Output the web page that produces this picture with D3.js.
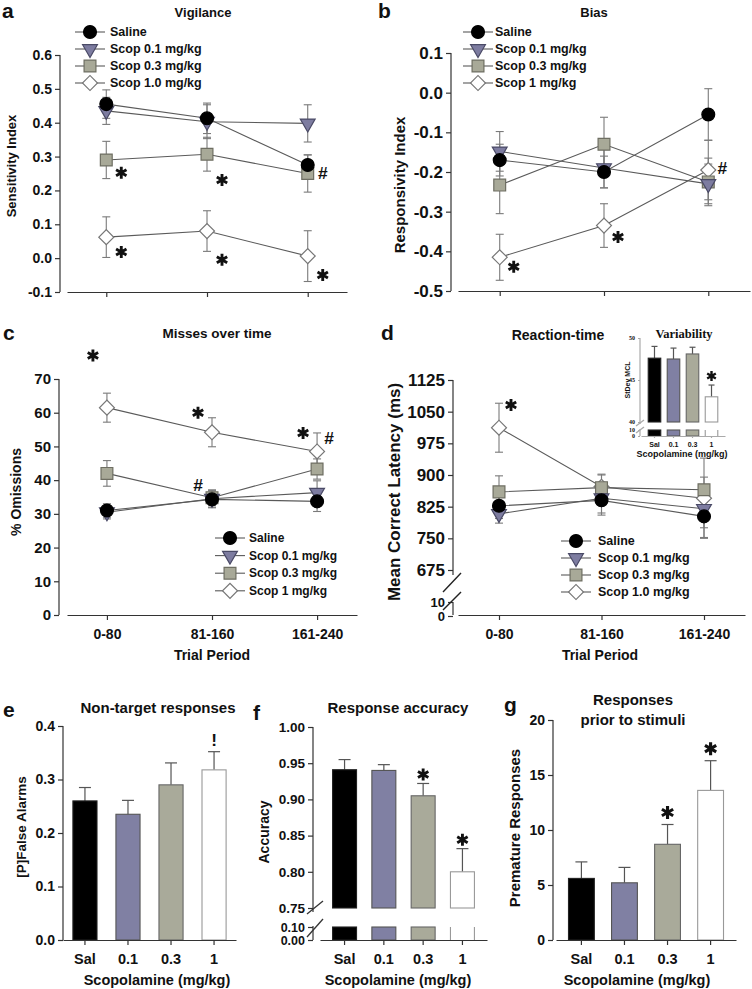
<!DOCTYPE html>
<html>
<head>
<meta charset="utf-8">
<script src="https://cdn.jsdelivr.net/npm/d3@7"></script>
<style>
body{margin:0;background:#fff}
svg{display:block}
</style>
</head>
<body>
<svg id="fig" width="752" height="989"></svg>
<script>
var periods = ["0-80", "81-160", "161-240"];
var doses = ["Sal", "0.1", "0.3", "1"];

// a - vigilance
var vigNames = ["Saline", "Scop 0.1 mg/kg", "Scop 0.3 mg/kg", "Scop 1.0 mg/kg"];
var vigMean = [[0.455, 0.413, 0.275], [0.435, 0.403, 0.398], [0.290, 0.307, 0.250], [0.062, 0.080, 0.006]];
var vigErr = [[0.042, 0.045, 0.030], [0.040, 0.050, 0.055], [0.055, 0.050, 0.055], [0.060, 0.060, 0.075]];
var vigMarks = [
    {m: "*", i: 0, v: 0.252, side: "r"}, {m: "*", i: 1, v: 0.231, side: "r"}, {m: "#", i: 2, v: 0.252, side: "r"},
    {m: "*", i: 0, v: 0.018, side: "r"}, {m: "*", i: 1, v: -0.005, side: "r"}, {m: "*", i: 2, v: -0.05, side: "r"}
];

// b - bias
var biasNames = ["Saline", "Scop 0.1 mg/kg", "Scop 0.3 mg/kg", "Scop 1 mg/kg"];
var biasMean = [[-0.170, -0.200, -0.055], [-0.148, -0.190, -0.230], [-0.233, -0.130, -0.225], [-0.415, -0.335, -0.195]];
var biasErr = [[0.040, 0.040, 0.065], [0.050, 0.050, 0.050], [0.072, 0.068, 0.060], [0.058, 0.055, 0.075]];
var biasMarks = [{m: "*", i: 0, v: -0.439, side: "r"}, {m: "*", i: 1, v: -0.364, side: "r"}, {m: "#", i: 2, v: -0.19, side: "r"}];

// c - omissions
var omNames = ["Saline", "Scop 0.1 mg/kg", "Scop 0.3 mg/kg", "Scop 1 mg/kg"];
var omMean = [[31.0, 34.3, 33.7], [30.5, 34.5, 36.3], [42.0, 34.8, 43.3], [61.5, 54.2, 48.5]];
var omErr = [[2.0, 2.5, 3.0], [2.0, 2.5, 3.5], [3.8, 2.3, 3.0], [4.3, 4.3, 5.5]];
var omMarks = [
    {m: "*", i: 0, v: 77, side: "l"}, {m: "*", i: 1, v: 60, side: "l"}, {m: "*", i: 2, v: 54, side: "l"},
    {m: "#", i: 2, v: 52.5, side: "r"}, {m: "#", i: 1, v: 38.6, side: "l"}
];

// d - reaction time
var rtNames = ["Saline", "Scop 0.1 mg/kg", "Scop 0.3 mg/kg", "Scop 1.0 mg/kg"];
var rtMean = [[827, 840, 802], [808, 845, 820], [860, 870, 865], [1012, 872, 845]];
var rtErr = [[30, 35, 50], [22, 35, 45], [38, 30, 30], [58, 30, 95]];
var rtMarks = [{m: "*", i: 0, v: 1066, side: "r"}];

// d inset - variability
var varMean = [47.6, 47.5, 48.1, 43.0];
var varErr = [1.4, 1.3, 0.8, 1.4];
var varMarks = ["", "", "", "*"];

// e, f, g
var faMean = [0.260, 0.235, 0.290, 0.318];
var faErr = [0.025, 0.026, 0.041, 0.034];
var faMarks = ["", "", "", "!"];
var accMean = [0.941, 0.940, 0.905, 0.800];
var accErr = [0.014, 0.008, 0.017, 0.032];
var accMarks = ["", "", "*", "*"];
var premMean = [5.6, 5.2, 8.7, 13.6];
var premErr = [1.5, 1.4, 1.8, 2.7];
var premMarks = ["", "", "*", "*"];

var FONT = '"Liberation Sans", Arial, sans-serif';
var svg = d3.select("#fig");

var shapes = [
    {sym: d3.symbolCircle, size: 130, rot: 0, fill: "#000", stroke: "#000"},
    {sym: d3.symbolTriangle, size: 95, rot: 180, fill: "#7d7ca0", stroke: "#4a4a66"},
    {sym: d3.symbolSquare, size: 140, rot: 0, fill: "#a8a998", stroke: "#6e6e62"},
    {sym: d3.symbolSquare, size: 112, rot: 45, fill: "#fff", stroke: "#777"}
];
var barFill = ["#000", "#8080a3", "#a9aa9a", "#fff"];
var barStroke = ["#222", "#555", "#666", "#999"];

// plain hyphen minus, as in the figure
function fmt(spec){
    var f = d3.format(spec);
    return function(d){ return f(d).replace("\u2212", "-"); };
}

function txt(g, x, y, s, size, anchor, family){
    return g.append("text").attr("x", x).attr("y", y).text(s)
        .attr("font-family", family || FONT).attr("font-weight", "bold")
        .attr("font-size", size).attr("text-anchor", anchor || "middle").attr("fill", "#111");
}

function ylab(g, x, y, s, size){
    g.append("text").attr("transform", "translate(" + x + "," + y + ") rotate(-90)")
        .attr("dy", "0.35em").text(s)
        .attr("font-family", FONT).attr("font-weight", "bold")
        .attr("font-size", size).attr("text-anchor", "middle").attr("fill", "#111");
}

function line(g, x1, y1, x2, y2, col, w){
    g.append("line").attr("x1", x1).attr("y1", y1).attr("x2", x2).attr("y2", y2)
        .attr("stroke", col || "#333").attr("stroke-width", w || 1.2);
}

function styleAxis(a, size, col, family){
    a.attr("font-family", family || FONT).attr("font-weight", "bold").attr("font-size", size);
    a.selectAll("line").attr("stroke", col || "#333").attr("stroke-width", 1.2);
    a.selectAll("path").attr("stroke", col || "#333").attr("stroke-width", 1.2);
    a.selectAll("text").attr("fill", "#111");
}

function drawMarker(g, k, x, y){
    var s = shapes[k];
    g.append("path").attr("d", d3.symbol(s.sym, s.size)())
        .attr("transform", "translate(" + x + "," + y + ") rotate(" + s.rot + ")")
        .attr("fill", s.fill).attr("stroke", s.stroke).attr("stroke-width", 1.2);
}

function drawMark(g, m, x, y, r){
    if(m === "*"){
        g.append("path").attr("d", d3.symbol(d3.symbolAsterisk, Math.pow(r / 0.59436, 2) - 0.75)())
            .attr("transform", "translate(" + x + "," + y + ")")
            .attr("fill", "none").attr("stroke", "#111").attr("stroke-width", r * 0.48);
    } else {
        txt(g, x, y, m, r * 2.9).attr("dy", "0.35em");
    }
}

function lineChart(cfg){
    var g = svg.append("g");
    var x = d3.scalePoint().domain(periods).range(cfg.xr).padding(cfg.pad);
    var y = cfg.y;

    var ya = g.append("g").attr("transform", "translate(" + cfg.ax + ",0)")
        .call(d3.axisLeft(y).tickValues(cfg.yt).tickFormat(cfg.fmt).tickSize(5).tickPadding(3));
    ya.select(".domain").remove();
    styleAxis(ya, cfg.tf);
    if(cfg.y0){
        var yb = g.append("g").attr("transform", "translate(" + cfg.ax + ",0)")
            .call(d3.axisLeft(cfg.y0).tickValues(cfg.y0t).tickSize(5).tickPadding(3));
        yb.select(".domain").remove();
        styleAxis(yb, cfg.tf0);
    }
    cfg.ySegs.forEach(function(s){ line(g, cfg.ax, s[0], cfg.ax, s[1]); });
    (cfg.breaks || []).forEach(function(b){ line(g, b[0], b[1], b[2], b[3], "#222", 1.4); });

    var xa = g.append("g").attr("transform", "translate(0," + cfg.base + ")")
        .call(d3.axisBottom(x).tickSize(5).tickSizeOuter(0).tickPadding(9)
            .tickFormat(cfg.xlab ? null : function(){ return ""; }));
    styleAxis(xa, 14);

    var order = [3, 2, 1, 0];
    order.forEach(function(k){
        var pts = cfg.means[k].map(function(v, i){ return [x(periods[i]), y(v)]; });
        g.append("path").attr("d", d3.line()(pts)).attr("fill", "none")
            .attr("stroke", "#5a5a5a").attr("stroke-width", 1.1);
    });
    order.forEach(function(k){
        cfg.means[k].forEach(function(v, i){
            var e = cfg.errs[k][i], px = x(periods[i]);
            line(g, px, y(v - e), px, y(v + e), "#7a7a7a", 1.1);
            line(g, px - 4, y(v - e), px + 4, y(v - e), "#7a7a7a", 1.1);
            line(g, px - 4, y(v + e), px + 4, y(v + e), "#7a7a7a", 1.1);
        });
    });
    order.forEach(function(k){
        cfg.means[k].forEach(function(v, i){ drawMarker(g, k, x(periods[i]), y(v)); });
    });

    cfg.marks.forEach(function(m){
        var dx = m.side === "l" ? cfg.dl : cfg.dr;
        drawMark(g, m.m, x(periods[m.i]) + dx, y(m.v), 6);
    });

    var L = cfg.leg;
    cfg.names.forEach(function(n, k){
        var ly = L.y + k * L.dy;
        line(g, L.x - 15, ly, L.x + 15, ly, "#5a5a5a", 1.1);
        drawMarker(g, k, L.x, ly);
        txt(g, L.x + L.gap, ly, n, L.fs, "start").attr("dy", "0.35em");
    });

    txt(g, cfg.title[0], cfg.title[1], cfg.title[2], cfg.title[3]).attr("dy", "0.35em");
    txt(g, cfg.letter[0], cfg.letter[1], cfg.letter[2], 21, "start");
    ylab(g, cfg.ylab[0], cfg.ylab[1], cfg.ylab[2], cfg.ylab[3]);
    if(cfg.xlab) txt(g, cfg.xlab[0], cfg.xlab[1], cfg.xlab[2], 14);
    return g;
}

function barChart(cfg){
    var g = svg.append("g");
    var x = d3.scaleBand().domain(doses).range(cfg.xr).paddingInner(cfg.pi).paddingOuter(cfg.po);
    var y = cfg.y, col = cfg.axisCol || "#333";

    var ya = g.append("g").attr("transform", "translate(" + cfg.ax + ",0)")
        .call(d3.axisLeft(y).tickValues(cfg.yt).tickFormat(cfg.fmt).tickSize(cfg.ts).tickPadding(3));
    ya.select(".domain").remove();
    styleAxis(ya, cfg.tf, col, cfg.tfam);
    if(cfg.y0){
        var yb = g.append("g").attr("transform", "translate(" + cfg.ax + ",0)")
            .call(d3.axisLeft(cfg.y0).tickValues(cfg.y0t).tickFormat(cfg.fmt0).tickSize(cfg.ts).tickPadding(3));
        yb.select(".domain").remove();
        styleAxis(yb, cfg.tf0 || cfg.tf, col, cfg.tfam);
    }
    cfg.ySegs.forEach(function(s){ line(g, cfg.ax, s[0], cfg.ax, s[1], col); });
    (cfg.breaks || []).forEach(function(b){ line(g, b[0], b[1], b[2], b[3], col, 1.3); });

    var bottom = y(y.domain()[0]);
    cfg.means.forEach(function(v, i){
        var bx = x(doses[i]), bw = x.bandwidth(), cx = bx + bw / 2;
        var e = cfg.errs[i];
        line(g, cx, y(v), cx, y(v + e), "#555", 1.2);
        line(g, cx - cfg.cap, y(v + e), cx + cfg.cap, y(v + e), "#555", 1.2);
        g.append("rect").attr("x", bx).attr("y", y(v)).attr("width", bw).attr("height", bottom - y(v))
            .attr("fill", barFill[i]).attr("stroke", barStroke[i]).attr("stroke-width", 1.1);
        if(cfg.y0){
            var top0 = cfg.y0(cfg.y0.domain()[1]), bot0 = cfg.y0(0);
            if(i === 3){
                line(g, bx, top0, bx, bot0, barStroke[i], 1.1);
                line(g, bx + bw, top0, bx + bw, bot0, barStroke[i], 1.1);
            } else {
                g.append("rect").attr("x", bx).attr("y", top0).attr("width", bw).attr("height", bot0 - top0)
                    .attr("fill", barFill[i]).attr("stroke", barStroke[i]).attr("stroke-width", 1.1);
            }
        }
        if(cfg.marks[i]) drawMark(g, cfg.marks[i], cx, y(v + e) - cfg.markGap, cfg.markR);
    });

    var xa = g.append("g").attr("transform", "translate(0," + cfg.base + ")")
        .call(d3.axisBottom(x).tickSize(cfg.ts).tickSizeOuter(0).tickPadding(cfg.xpad));
    styleAxis(xa, cfg.xf, col);

    if(cfg.title) cfg.title.forEach(function(t){ txt(g, t[0], t[1], t[2], t[3], "middle", t[4]).attr("dy", "0.35em"); });
    if(cfg.letter) txt(g, cfg.letter[0], cfg.letter[1], cfg.letter[2], 21, "start");
    ylab(g, cfg.ylab[0], cfg.ylab[1], cfg.ylab[2], cfg.ylab[3]);
    txt(g, cfg.xlab[0], cfg.xlab[1], cfg.xlab[2], cfg.xlab[3]);
    return g;
}

// a
lineChart({
    xr: [67, 347], pad: 0.39, ax: 60, base: 292,
    y: d3.scaleLinear().domain([-0.1, 0.6]).range([292, 55]),
    yt: [-0.1, 0, 0.1, 0.2, 0.3, 0.4, 0.5, 0.6], fmt: fmt(".1f"), tf: 14,
    ySegs: [[55, 292]],
    means: vigMean, errs: vigErr, names: vigNames, marks: vigMarks, dl: -14, dr: 15,
    leg: {x: 90, y: 32, dy: 17, gap: 20, fs: 12.5},
    title: [203, 12, "Vigilance", 13], letter: [2, 18, "a"],
    ylab: [11, 166, "Sensitivity Index", 13]
});

// b
lineChart({
    xr: [458, 750], pad: 0.4, ax: 451, base: 291,
    y: d3.scaleLinear().domain([-0.5, 0.1]).range([291, 53]),
    yt: [-0.5, -0.4, -0.3, -0.2, -0.1, 0, 0.1], fmt: fmt(".1f"), tf: 17,
    ySegs: [[53, 291]],
    means: biasMean, errs: biasErr, names: biasNames, marks: biasMarks, dl: -14, dr: 14,
    leg: {x: 478, y: 32, dy: 17, gap: 17, fs: 12.5},
    title: [594, 12, "Bias", 13], letter: [378, 18, "b"],
    ylab: [400, 185, "Responsivity Index", 15]
});

// c
lineChart({
    xr: [67, 357], pad: 0.38, ax: 59, base: 615,
    y: d3.scaleLinear().domain([0, 70]).range([615, 379]),
    yt: [0, 10, 20, 30, 40, 50, 60, 70], fmt: fmt("d"), tf: 15,
    ySegs: [[379, 615]],
    means: omMean, errs: omErr, names: omNames, marks: omMarks, dl: -14, dr: 12,
    leg: {x: 230, y: 538, dy: 17.6, gap: 19, fs: 12},
    title: [217, 333, "Misses over time", 13.5], letter: [3, 340, "c"],
    ylab: [16, 492, "% Omissions", 14],
    xlab: [212, 660, "Trial Period"]
});

// d
lineChart({
    xr: [458, 745], pad: 0.4, ax: 453, base: 615,
    y: d3.scaleLinear().domain([675, 1125]).range([570, 380]),
    yt: [675, 750, 825, 900, 975, 1050, 1125], fmt: fmt("d"), tf: 17,
    y0: d3.scaleLinear().domain([0, 10]).range([616, 602]), y0t: [0, 10], tf0: 13,
    ySegs: [[380, 575], [602, 615]],
    breaks: [[443, 592, 461, 573], [443, 610, 461, 592]],
    means: rtMean, errs: rtErr, names: rtNames, marks: rtMarks, dl: -13, dr: 12,
    leg: {x: 576, y: 541, dy: 17, gap: 22, fs: 12.5},
    title: [558, 335, "Reaction-time", 14], letter: [381, 340, "d"],
    ylab: [394, 492, "Mean Correct Latency (ms)", 17],
    xlab: [600, 660, "Trial Period"]
});

// d inset
barChart({
    xr: [641, 725], pi: 0.34, po: 0.38, ax: 640, base: 436, ts: 2,
    y: d3.scaleLinear().domain([40, 50]).range([422, 338]),
    yt: [40, 45, 50], fmt: fmt("d"), tf: 6, tfam: '"Liberation Serif", serif',
    y0: d3.scaleLinear().domain([0, 10]).range([436, 430]), y0t: [0, 10], fmt0: fmt("d"),
    ySegs: [[338, 424], [429, 436]],
    breaks: [[636, 426, 644, 420], [636, 433, 644, 427]],
    axisCol: "#aaa",
    means: varMean, errs: varErr, marks: varMarks, cap: 3, markGap: 9, markR: 5,
    xpad: 4, xf: 7,
    title: [[684, 334, "Variability", 12.5, '"Liberation Serif", serif']],
    ylab: [628, 380, "StDev MCL", 7],
    xlab: [682, 457, "Scopolamine (mg/kg)", 9]
});

// e
barChart({
    xr: [63, 236], pi: 0.44, po: 0.23, ax: 63, base: 940, ts: 5,
    y: d3.scaleLinear().domain([0, 0.4]).range([940, 726]),
    yt: [0, 0.1, 0.2, 0.3, 0.4], fmt: fmt(".1f"), tf: 14,
    ySegs: [[726, 940]],
    means: faMean, errs: faErr, marks: faMarks, cap: 6, markGap: 12, markR: 6,
    xpad: 9, xf: 14.5,
    title: [[158, 708, "Non-target responses", 15]], letter: [3, 717, "e"],
    ylab: [21, 827, "[P]False Alarms", 13.5],
    xlab: [157, 985, "Scopolamine (mg/kg)", 14.5]
});

// f
barChart({
    xr: [320, 487], pi: 0.39, po: 0.32, ax: 313, base: 940, ts: 5,
    y: d3.scaleLinear().domain([0.75, 1]).range([908, 727]),
    yt: [0.75, 0.8, 0.85, 0.9, 0.95, 1], fmt: fmt(".2f"), tf: 13.5,
    y0: d3.scaleLinear().domain([0, 0.1]).range([940, 927]), y0t: [0, 0.1], fmt0: fmt(".2f"), tf0: 12.5,
    ySegs: [[727, 912], [926, 940]],
    breaks: [[307, 914, 323, 901], [307, 937, 323, 919]],
    means: accMean, errs: accErr, marks: accMarks, cap: 6, markGap: 9, markR: 6,
    xpad: 9, xf: 14.5,
    title: [[398, 708, "Response accuracy", 15]], letter: [253, 720, "f"],
    ylab: [264, 832, "Accuracy", 14],
    xlab: [398, 985, "Scopolamine (mg/kg)", 14.5]
});

// g
barChart({
    xr: [556, 736], pi: 0.4, po: 0.29, ax: 553, base: 940, ts: 5,
    y: d3.scaleLinear().domain([0, 20]).range([940, 720]),
    yt: [0, 5, 10, 15, 20], fmt: fmt("d"), tf: 14,
    ySegs: [[720, 940]],
    means: premMean, errs: premErr, marks: premMarks, cap: 6, markGap: 12, markR: 6.5,
    xpad: 9, xf: 14.5,
    title: [[633, 700, "Responses", 15], [633, 720, "prior to stimuli", 15]], letter: [504, 712, "g"],
    ylab: [515, 828, "Premature Responses", 15],
    xlab: [637, 985, "Scopolamine (mg/kg)", 14.5]
});
</script>
</body>
</html>
